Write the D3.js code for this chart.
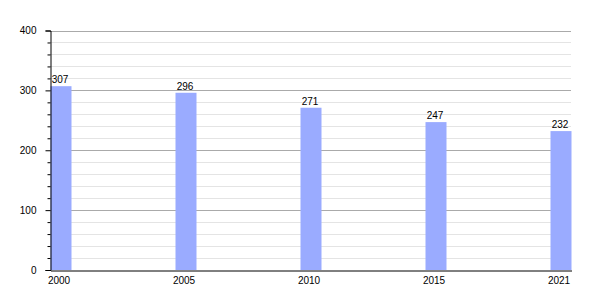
<!DOCTYPE html>
<html>
<head>
<meta charset="utf-8">
<script src="https://cdn.jsdelivr.net/npm/d3@7"></script>
<style>
  body { margin: 0; background: #fff; }
  text { font-family: "Liberation Sans", Arial, sans-serif; font-size: 10px; fill: #000; }
</style>
</head>
<body>
<div id="chart"></div>
<script>
// population by census year
const years = ['2000', '2005', '2010', '2015', '2021'];
const values = [307, 296, 271, 247, 232];
const yTicks = [0, 100, 200, 300, 400];

const width = 600, height = 300;
const svg = d3.select('#chart')
  .append('svg')
  .attr('width', width)
  .attr('height', height);

const x = d3.scaleBand()
  .domain(years)
  .range([50.5, 571.5])
  .paddingInner(0.832)
  .paddingOuter(0);

const y = d3.scaleLinear()
  .domain([0, 400])
  .range([270, 30.5]);

const minor = d3.range(0, 401, 20);

// minor grid
svg.selectAll('line.minor')
  .data(minor.filter(v => v % 100 !== 0))
  .enter()
  .append('line')
  .attr('x1', 50).attr('x2', 571)
  .attr('y1', d => Math.round(y(d)) + 0.5)
  .attr('y2', d => Math.round(y(d)) + 0.5)
  .attr('stroke', '#e4e4e4');

// major grid
svg.selectAll('line.major')
  .data(yTicks.filter(v => v > 0))
  .enter()
  .append('line')
  .attr('x1', 50).attr('x2', 571)
  .attr('y1', d => Math.round(y(d)) + 0.5)
  .attr('y2', d => Math.round(y(d)) + 0.5)
  .attr('stroke', '#aaaaaa');

// bars
svg.selectAll('rect.bar')
  .data(values)
  .enter()
  .append('rect')
  .attr('class', 'bar')
  .attr('x', (d, i) => x(years[i]))
  .attr('y', d => y(d))
  .attr('width', x.bandwidth())
  .attr('height', d => y(0) - y(d))
  .attr('fill', '#9aabff');

// value labels
svg.selectAll('text.val')
  .data(values)
  .enter()
  .append('text')
  .attr('x', (d, i) => x(years[i]) + x.bandwidth() / 2 - 1)
  .attr('y', d => y(d) - 3)
  .attr('text-anchor', 'middle')
  .text(d => d);

// y axis
const yAxis = svg.append('g')
  .attr('transform', 'translate(50.5,0)')
  .call(d3.axisLeft(y).tickValues(yTicks).tickSize(5).tickPadding(9));
yAxis.select('.domain').attr('stroke', '#000');
yAxis.selectAll('text').style('font-size', '10px');

svg.append('g')
  .attr('transform', 'translate(50.5,0)')
  .call(d3.axisLeft(y).tickValues(minor.filter(v => v % 100 !== 0)).tickSize(3).tickFormat(''))
  .select('.domain').remove();

// x axis
const xAxis = svg.append('g')
  .attr('transform', 'translate(-2,270.5)')
  .call(d3.axisBottom(x).tickSize(0).tickPadding(6).tickSizeOuter(0));
xAxis.select('.domain').attr('stroke', '#000').attr('transform', 'translate(2,0)');
xAxis.selectAll('text').style('font-size', '10px');
</script>
</body>
</html>
